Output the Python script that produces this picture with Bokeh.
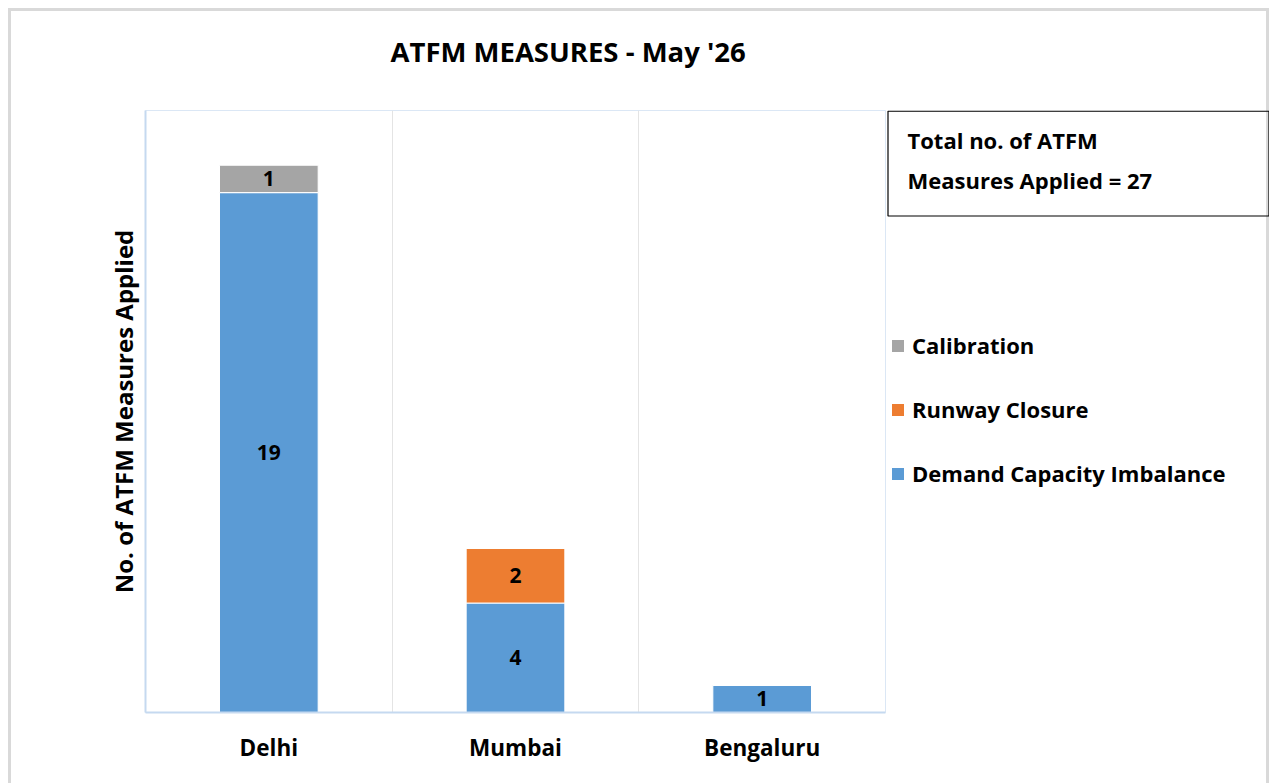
from bokeh.plotting import figure
from bokeh.layouts import row, column
from bokeh.models import (ColumnDataSource, FixedTicker, Legend, LegendItem, Label,
                          BoxAnnotation, Range1d, LabelSet)
from bokeh.embed import file_html
from bokeh.resources import INLINE
from bokeh.core.properties import value

# ---- data ----
cities = ["Delhi", "Mumbai", "Bengaluru"]
demand_capacity = [19, 4, 1]
runway_closure = [0, 2, 0]
calibration = [1, 0, 0]
series_names = ["Demand Capacity Imbalance", "Runway Closure", "Calibration"]
series_colors = ["#5b9bd5", "#ed7d31", "#a5a5a5"]
chart_title = "ATFM MEASURES - May '26"
y_axis_title = "No. of ATFM Measures Applied"

FONT = "Open Sans"
total = sum(demand_capacity) + sum(runway_closure) + sum(calibration)

xs = [i + 0.5 for i in range(len(cities))]
src = ColumnDataSource(dict(x=xs, dci=demand_capacity, rc=runway_closure, cal=calibration))


def blank(fig):
    fig.border_fill_color = None
    fig.background_fill_color = None
    fig.outline_line_color = None
    fig.grid.grid_line_color = None


# ---- title strip ----
TH = 102
t = figure(width=1261, height=TH, output_backend="svg", toolbar_location=None,
           x_axis_type=None, y_axis_type=None, x_range=Range1d(0, 1), y_range=Range1d(0, 1),
           min_border=0)
blank(t)
t.add_layout(Label(x=382, y=43, x_units="canvas", y_units="canvas", text=chart_title,
                   text_font=FONT, text_font_size="27.5px", text_font_style="bold",
                   text_color="black", text_baseline="alphabetic"))

# ---- main chart ----
H = 673
p = figure(width=878, height=H, output_backend="svg", toolbar_location=None,
           x_range=Range1d(0, len(cities)), y_range=Range1d(0, 22),
           min_border_left=137, min_border_right=1, min_border_top=0, min_border_bottom=71)
p.border_fill_color = None

renderers = p.vbar_stack(["dci", "rc", "cal"], x="x", width=0.4, source=src,
                         fill_color=series_colors, line_color="white", line_width=1)

# segment labels
lx, ly, lt = [], [], []
stacks = [demand_capacity, runway_closure, calibration]
for i in range(len(cities)):
    base = 0
    for s in stacks:
        v = s[i]
        if v:
            lx.append(xs[i]); ly.append(base + v / 2); lt.append(str(v))
        base += v
lsrc = ColumnDataSource(dict(x=lx, y=ly, t=lt))
p.add_layout(LabelSet(x="x", y="y", text="t", source=lsrc, text_align="center",
                      text_baseline="middle", text_font=value(FONT), text_font_size="21px",
                      text_font_style="bold", text_color="black"))

# axes
p.xaxis.ticker = FixedTicker(ticks=xs)
p.xaxis.major_label_overrides = {x: c for x, c in zip(xs, cities)}
p.xaxis.major_label_text_font = FONT
p.xaxis.major_label_text_font_size = "22.5px"
p.xaxis.major_label_text_font_style = "bold"
p.xaxis.major_label_text_color = "black"
p.xaxis.major_label_standoff = 13
p.xaxis.major_tick_line_color = None
p.xaxis.minor_tick_line_color = None
p.xaxis.axis_line_color = "#c5d9f0"
p.xaxis.axis_line_width = 2

p.yaxis.ticker = FixedTicker(ticks=[])
p.yaxis.major_label_text_font_size = "0px"
p.yaxis.major_tick_line_color = None
p.yaxis.minor_tick_line_color = None
p.yaxis.axis_line_color = "#c5d9f0"
p.yaxis.axis_line_width = 2
p.yaxis.axis_label = y_axis_title
p.yaxis.axis_label_text_font = FONT
p.yaxis.axis_label_text_font_size = "24px"
p.yaxis.axis_label_text_font_style = "bold"
p.yaxis.axis_label_text_color = "black"
p.yaxis.axis_label_standoff = 6

p.xgrid.ticker = FixedTicker(ticks=[1, 2])
p.xgrid.grid_line_color = "#e4e4e4"
p.ygrid.grid_line_color = None
p.outline_line_color = "#dbe7f5"

# ---- right-hand panel: total box and legend ----
q = figure(width=383, height=H, output_backend="svg", toolbar_location=None,
           x_axis_type=None, y_axis_type=None, x_range=Range1d(0, 1), y_range=Range1d(0, 1),
           min_border=0)
blank(q)

nan = float("nan")
keys = [q.quad(left=[nan], right=[nan], top=[nan], bottom=[nan], fill_color=c, line_color=None)
        for c in series_colors]
items = [LegendItem(label=series_names[k], renderers=[keys[k]]) for k in (2, 1, 0)]
leg = Legend(items=items, location=(4, 224), glyph_width=15, glyph_height=15,
             label_height=20, spacing=34, label_standoff=7, padding=0, margin=0,
             border_line_color=None, background_fill_alpha=0,
             label_text_font=FONT, label_text_font_size="22px",
             label_text_font_style="bold", label_text_color="black")
q.add_layout(leg, "center")

q.add_layout(BoxAnnotation(left=1.5, right=382.5, top=0.7, bottom=105.5,
                           left_units="canvas", right_units="canvas",
                           top_units="canvas", bottom_units="canvas",
                           fill_alpha=0, line_color="black", line_alpha=1, line_width=1.2))
q.add_layout(Label(x=21, y=29, x_units="canvas", y_units="canvas",
                   text="Total no. of ATFM", text_font=FONT, text_font_size="22px",
                   text_font_style="bold", text_color="black", text_baseline="alphabetic"))
q.add_layout(Label(x=21, y=69, x_units="canvas", y_units="canvas",
                   text=f"Measures Applied = {total}", text_font=FONT, text_font_size="22px",
                   text_font_style="bold", text_color="black", text_baseline="alphabetic"))

layout = column(t, row(p, q, spacing=0), spacing=0, styles={
    "margin-left": "8px", "margin-top": "8px", "background": "white",
    "box-shadow": "inset 3px 3px 0 #d9d9d9, inset -3px 0 0 #d9d9d9"})

open("out.html", "w").write(file_html(layout, INLINE))
